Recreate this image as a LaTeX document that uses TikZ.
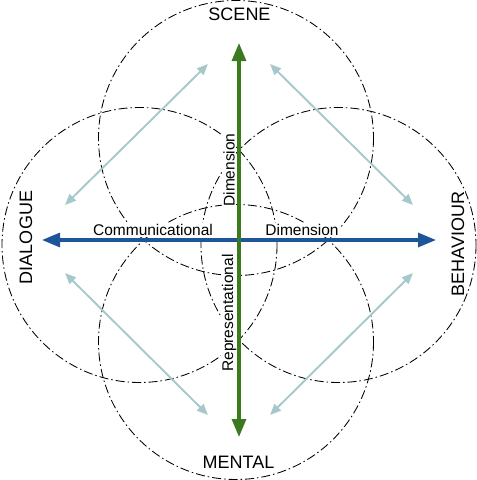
\documentclass[tikz,border=0pt]{standalone}
\usepackage{fontspec}
\setmainfont{Liberation Sans}
\usetikzlibrary{arrows.meta}
\definecolor{lb}{HTML}{A6C8CC}
\definecolor{gr}{HTML}{3B7A1E}
\definecolor{bl}{HTML}{1C5698}
\tikzset{
  ring/.style={draw=black, line width=0.85pt, dash pattern=on 9pt off 3pt on 1.5pt off 3pt},
  diag/.style={draw=lb, line width=1.9pt, {Triangle[length=11pt,width=9pt]}-{Triangle[length=11pt,width=9pt]}},
  axis/.style={line width=3.1pt, {Triangle[length=18pt,width=14pt]}-{Triangle[length=18pt,width=14pt]}},
  big/.style={font=\fontsize{18}{18}\selectfont, inner sep=1pt, fill=white},
  small/.style={font=\fontsize{15.5}{15.5}\selectfont, inner sep=1pt, fill=white},
}
\begin{document}
\begin{tikzpicture}[x=1pt,y=-1pt]
\useasboundingbox (0,0) rectangle (477,480);
% circles
\draw[ring] (236,138) circle (137.5);
\draw[ring] (236,342) circle (137.5);
\draw[ring] (139.5,245) circle (137.5);
\draw[ring] (338.5,245) circle (137.5);
% labels
\node[big] (scene) at (239.5,14) {SCENE};
\node[big] (mental) at (238.5,462) {MENTAL};
\node[big, rotate=90] (dialogue) at (26,237.5) {DIALOGUE};
\node[big, rotate=90] (behaviour) at (458,244) {BEHAVIOUR};
\node[small] (comm) at (153,230) {Communicational};
\node[small] (dimh) at (302,230) {Dimension};
\node[small, rotate=90] (dimv) at (229,170) {Dimension};
\node[small, rotate=90] (repr) at (229,313) {Representational};
% coordinates
\coordinate (tl1) at (65,205);
\coordinate (tl2) at (208,64);
\coordinate (tr1) at (270,64);
\coordinate (tr2) at (413,205);
\coordinate (bl1) at (65,273);
\coordinate (bl2) at (208,415);
\coordinate (br1) at (413,273);
\coordinate (br2) at (270,415);
\coordinate (vt) at (239,43);
\coordinate (vb) at (239,437);
\coordinate (hl) at (42,240);
\coordinate (hr) at (436,240);
% diagonal arrows
\draw[diag] (tl1) -- (tl2);
\draw[diag] (tr1) -- (tr2);
\draw[diag] (bl1) -- (bl2);
\draw[diag] (br1) -- (br2);
% axes
\draw[axis, draw=bl, fill=bl] (hl) -- (hr);
\draw[axis, draw=gr, fill=gr] (vb) -- (vt);
\end{tikzpicture}
\end{document}
